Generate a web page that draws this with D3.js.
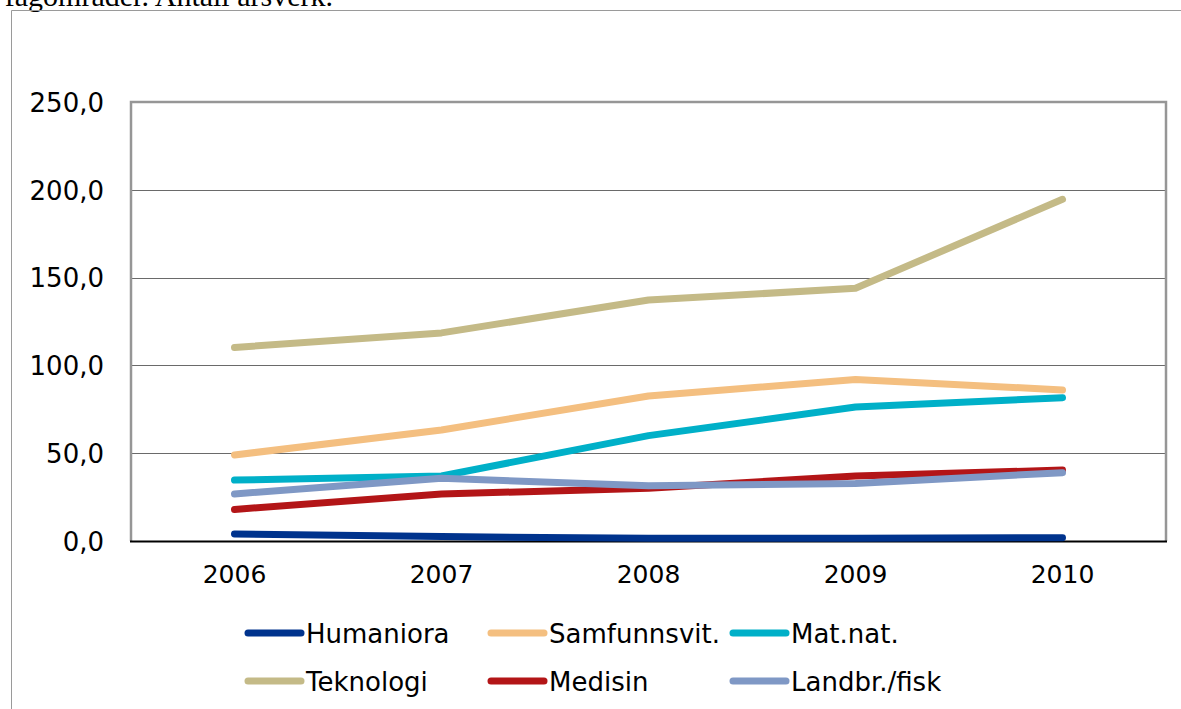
<!DOCTYPE html>
<html>
<head>
<meta charset="utf-8">
<script src="https://cdn.jsdelivr.net/npm/d3@7"></script>
<style>
  html, body { margin: 0; padding: 0; background: #fff; }
  svg { display: block; }
</style>
</head>
<body>
<script>
const categories = ["2006", "2007", "2008", "2009", "2010"];
const seriesNames = ["Humaniora", "Samfunnsvit.", "Mat.nat.", "Teknologi", "Medisin", "Landbr./fisk"];
const humaniora   = [4.0, 2.5, 1.5, 1.5, 1.9];
const samfunnsvit = [49.0, 63.2, 82.6, 92.0, 86.0];
const matnat      = [34.7, 37.0, 60.0, 76.3, 81.6];
const teknologi   = [110.2, 118.5, 137.2, 143.9, 194.6];
const medisin     = [18.0, 26.8, 30.0, 37.0, 40.4];
const landbr      = [26.8, 35.7, 31.5, 32.8, 38.9];
const yTicks = [0, 50, 100, 150, 200, 250];
const colors = ["#00338D", "#F4BF80", "#00B0C8", "#C4BA87", "#B31517", "#7F98C5"];
const titleText = "fagområder. Antall årsverk.";

const seriesValues = [humaniora, samfunnsvit, matnat, teknologi, medisin, landbr];

const W = 1181, H = 709;
const plot = { left: 131, top: 102, right: 1166, bottom: 541 };

const svg = d3.select("body").append("svg").attr("width", W).attr("height", H);

// partial caption at top (cut off in the original as well)
svg.append("text").attr("x", 333).attr("y", 6).attr("text-anchor", "end")
  .attr("font-family", "Liberation Serif, Times New Roman, serif").attr("font-size", 30)
  .attr("fill", "#000").text(titleText);

// outer chart frame
svg.append("path").attr("d", `M11.5,${H + 2} L11.5,10.5 L${W + 2},10.5`)
  .attr("fill", "none").attr("stroke", "#9a9a9a").attr("stroke-width", 1);

const x = d3.scaleBand().domain(categories).range([plot.left, plot.right]);
const y = d3.scaleLinear().domain([0, 250]).range([plot.bottom, plot.top]);

// gridlines
svg.append("g").selectAll("line").data(yTicks.filter(t => t > 0 && t < 250)).join("line")
  .attr("x1", plot.left).attr("x2", plot.right)
  .attr("y1", d => Math.round(y(d)) + 0.5).attr("y2", d => Math.round(y(d)) + 0.5)
  .attr("stroke", "#6a6a6a").attr("stroke-width", 1);

// plot frame (left, top, right)
svg.append("path")
  .attr("d", `M${plot.left},${plot.bottom} L${plot.left},${plot.top} L${plot.right},${plot.top} L${plot.right},${plot.bottom}`)
  .attr("fill", "none").attr("stroke", "#969696").attr("stroke-width", 2.5);

// y axis labels
const yAxis = d3.axisLeft(y).tickValues(yTicks).tickSize(0).tickPadding(0)
  .tickFormat(d => d3.format(".1f")(d).replace(".", ","));
const gy = svg.append("g").attr("transform", `translate(104,0)`).call(yAxis);
gy.select(".domain").remove();
gy.selectAll("text").attr("font-family", "DejaVu Sans, Verdana, sans-serif")
  .attr("font-size", 26).attr("fill", "#000").attr("dy", "0.36em");

// x axis labels
const xAxis = d3.axisBottom(x).tickSize(0).tickPadding(0);
const gx = svg.append("g").attr("transform", `translate(0,565)`).call(xAxis);
gx.select(".domain").remove();
gx.selectAll("text").attr("font-family", "DejaVu Sans, Verdana, sans-serif")
  .attr("font-size", 25).attr("fill", "#000").attr("dy", "0.72em");

// bottom axis line
svg.append("line").attr("x1", plot.left - 1).attr("x2", plot.right + 1)
  .attr("y1", plot.bottom + 0.5).attr("y2", plot.bottom + 0.5)
  .attr("stroke", "#000").attr("stroke-width", 2);

// series lines
const line = d3.line().x((d, i) => x(categories[i]) + x.bandwidth() / 2).y(d => y(d));
svg.append("g").selectAll("path").data(seriesValues).join("path")
  .attr("d", d => line(d))
  .attr("fill", "none")
  .attr("stroke", (d, i) => colors[i])
  .attr("stroke-width", 7)
  .attr("stroke-linecap", "round")
  .attr("stroke-linejoin", "round");

// legend
const legCols = [246, 489, 731];
const legRows = [633, 681];
const leg = svg.append("g");
seriesNames.forEach((name, i) => {
  const cx = legCols[i % 3], cy = legRows[Math.floor(i / 3)];
  leg.append("line").attr("x1", cx + 2).attr("x2", cx + 55).attr("y1", cy).attr("y2", cy)
    .attr("stroke", colors[i]).attr("stroke-width", 7).attr("stroke-linecap", "round");
  leg.append("text").attr("x", cx + 60).attr("y", cy + 10)
    .attr("font-family", "DejaVu Sans, Verdana, sans-serif").attr("font-size", 26)
    .attr("fill", "#000").text(name);
});
</script>
</body>
</html>
